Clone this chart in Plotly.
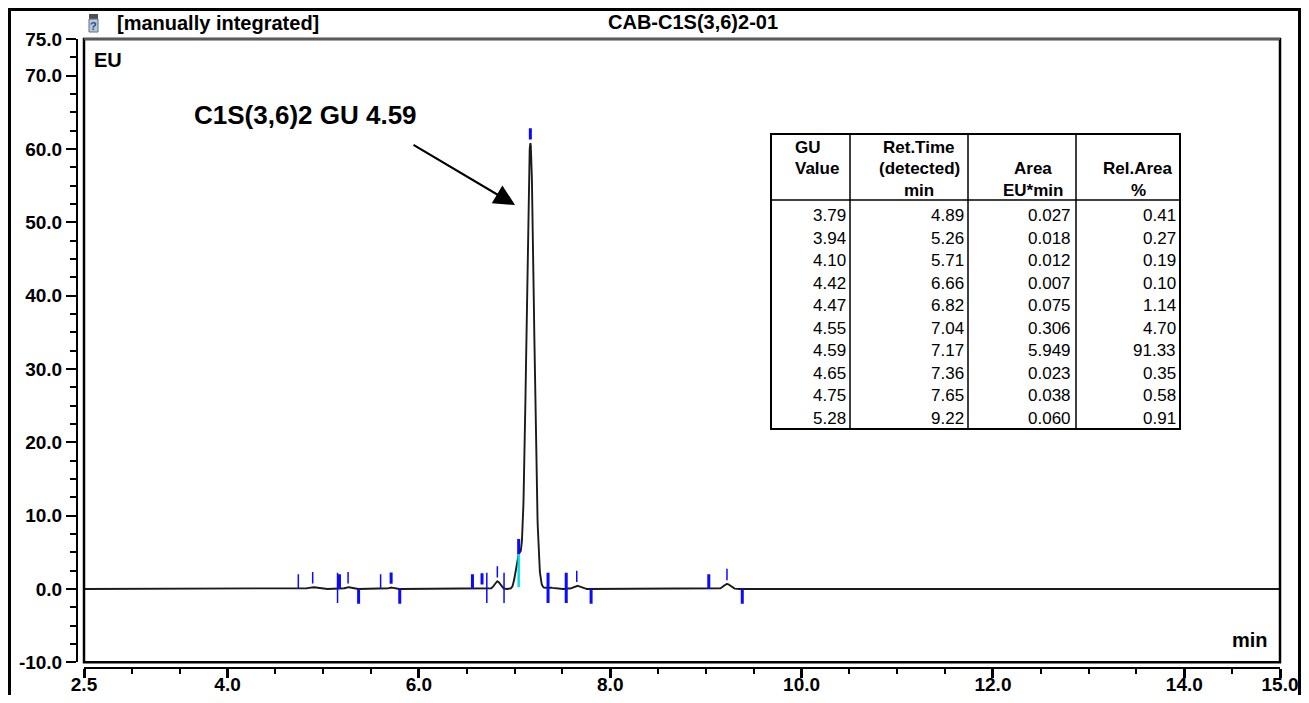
import numpy as np
import plotly.graph_objects as go

# ---------------- data ----------------
gu_values = ["3.79", "3.94", "4.10", "4.42", "4.47", "4.55", "4.59", "4.65", "4.75", "5.28"]
ret_times = [4.89, 5.26, 5.71, 6.66, 6.82, 7.04, 7.165, 7.36, 7.65, 9.22]
ret_labels = ["4.89", "5.26", "5.71", "6.66", "6.82", "7.04", "7.17", "7.36", "7.65", "9.22"]
areas = [0.027, 0.018, 0.012, 0.007, 0.075, 0.306, 5.949, 0.023, 0.038, 0.060]
area_labels = ["0.027", "0.018", "0.012", "0.007", "0.075", "0.306", "5.949", "0.023", "0.038", "0.060"]
rel_area_labels = ["0.41", "0.27", "0.19", "0.10", "1.14", "4.70", "91.33", "0.35", "0.58", "0.91"]
peak_heights = [0.25, 0.25, 0.20, 0.10, 1.05, 4.35, 60.8, 0.20, 0.45, 0.70]   # EU

# integration events (min)
start_events = [4.74, 5.17, 5.60, 6.56, 9.03]
end_events = [5.37, 5.80, 7.80, 9.38]
split_events = [5.15, 6.71, 6.89, 7.35, 7.54]
drop_event = 7.043

x_ticks = [2.5, 4.0, 6.0, 8.0, 10.0, 12.0, 14.0, 15.0]
x_ticktext = ["2.5", "4.0", "6.0", "8.0", "10.0", "12.0", "14.0", "15.0"]
y_ticks = [75, 70, 60, 50, 40, 30, 20, 10, 0, -10]
y_ticktext = ["75.0", "70.0", "60.0", "50.0", "40.0", "30.0", "20.0", "10.0", "0.0", "-10.0"]

# styles
start_thick = [False, True, False, True, True]
split_thick = [False, False, False, True, True]
apex_style = ["thin", "thin", "thick", "thick", "thin", "thick", "thick", None, "thin", "thin"]

FONT = "Arial, Liberation Sans, sans-serif"
BLUE = "#0a0aff"
W, H = 1293, 687
ML, MR, MT, MB = 69, 21, 31, 27
PW = W - ML - MR
PH = H - MT - MB
OFF = 8  # page body margin


def px(sx):
    return (sx - OFF - ML) / PW


def py(sy):
    return (H - MB - (sy - OFF)) / PH


# ---------------- chromatogram trace ----------------
t = np.linspace(2.5, 15.0, 6251)
signal = np.zeros_like(t)
for rt, a, h in zip(ret_times, areas, peak_heights):
    s = a / (h * np.sqrt(2 * np.pi))
    signal += h * np.exp(-0.5 * ((t - rt) / s) ** 2)


def curve_at(x):
    return float(np.interp(x, t, signal))


fig = go.Figure()
fig.add_trace(go.Scatter(x=t, y=signal, mode="lines",
                         line=dict(color="#1a1a1a", width=1.9), hoverinfo="skip"))

# ---------------- integration markers ----------------
seg = {"thin": ([], []), "thick": ([], [])}


def add_seg(kind, x, y0, y1):
    xs, ys = seg[kind]
    xs += [x, x, None]
    ys += [y0, y1, None]


for x, thick in zip(start_events, start_thick):
    add_seg("thick" if thick else "thin", x, 0.0, 2.0)
for x in end_events:
    add_seg("thick", x, 0.0, -2.0)
for x, thick in zip(split_events, split_thick):
    add_seg("thick" if thick else "thin", x, -1.9, 2.2)
for rt, style in zip(ret_times, apex_style):
    if style is None:
        continue
    base = curve_at(rt)
    if rt == 7.04:
        add_seg(style, rt + 0.003, base, base + 2.1)
    else:
        add_seg(style, rt, base + 0.5, base + 2.05)

fig.add_trace(go.Scatter(x=seg["thin"][0], y=seg["thin"][1], mode="lines",
                         line=dict(color=BLUE, width=1.5), hoverinfo="skip"))
fig.add_trace(go.Scatter(x=seg["thick"][0], y=seg["thick"][1], mode="lines",
                         line=dict(color=BLUE, width=3), hoverinfo="skip"))
fig.add_trace(go.Scatter(x=[drop_event, drop_event], y=[0.25, curve_at(drop_event)], mode="lines",
                         line=dict(color="#00e0e8", width=2.5), hoverinfo="skip"))

# ---------------- axes ----------------
fig.update_layout(
    width=W, height=H,
    margin=dict(l=ML, r=MR, t=MT, b=MB, pad=0, autoexpand=False),
    plot_bgcolor="white", paper_bgcolor="white", showlegend=False,
    xaxis=dict(range=[2.5, 15.0], domain=[px(84), 1], anchor="free", position=0,
               showline=True, linecolor="black", linewidth=2,
               ticks="outside", ticklen=9, tickwidth=2.5, tickcolor="black",
               tickmode="array", tickvals=x_ticks, ticktext=x_ticktext,
               tickfont=dict(family=FONT, size=19, color="black", weight="bold"),
               showgrid=False, zeroline=False,
               minor=dict(ticks="outside", ticklen=5, tickwidth=1.5, tickcolor="black",
                          tickmode="linear", tick0=2.5, dtick=0.5, showgrid=False)),
    yaxis=dict(range=[-10, 75], domain=[py(662.3), 1], anchor="free", position=0,
               showline=True, linecolor="black", linewidth=2,
               ticks="outside", ticklen=10, tickwidth=2, tickcolor="black",
               tickmode="array", tickvals=y_ticks, ticktext=y_ticktext,
               tickfont=dict(family=FONT, size=19, color="black", weight="bold"),
               showgrid=False, zeroline=False,
               minor=dict(ticks="outside", ticklen=6, tickwidth=1.5, tickcolor="black",
                          tickmode="linear", tick0=0, dtick=2.5, showgrid=False)),
)
try:
    fig.update_xaxes(ticklabelstandoff=-10)
except Exception:
    pass

shapes = []
# plot box
shapes.append(dict(type="rect", xref="paper", yref="paper", x0=px(84), x1=1, y0=py(662.3), y1=1,
                   line=dict(color="black", width=2.5)))
shapes.append(dict(type="line", xref="paper", yref="paper", x0=px(84), x1=1, y0=1, y1=1,
                   line=dict(color="#5a5a5a", width=2.5)))
# outer frame (left, top, right)
shapes.append(dict(type="rect", xref="paper", yref="paper", x0=px(9.5), x1=px(1299.5),
                   y0=py(760), y1=py(9.5), line=dict(color="black", width=3)))
# small header icon
shapes.append(dict(type="rect", xref="paper", yref="paper", x0=px(89), x1=px(98), y0=py(19), y1=py(14),
                   fillcolor="#505050", line=dict(width=0)))
shapes.append(dict(type="rect", xref="paper", yref="paper", x0=px(89), x1=px(98), y0=py(32), y1=py(19),
                   fillcolor="#b8c8dc", line=dict(color="#607080", width=1)))

# table frame
TL, TR, TT, TB = 771, 1180, 134, 429
cols = [850, 968, 1076]
shapes.append(dict(type="rect", xref="paper", yref="paper", x0=px(TL), x1=px(TR), y0=py(TB), y1=py(TT),
                   line=dict(color="black", width=2), fillcolor="white", layer="above"))
shapes.append(dict(type="line", xref="paper", yref="paper", x0=px(TL), x1=px(TR), y0=py(200), y1=py(200),
                   line=dict(color="black", width=1.5)))
for c in cols:
    shapes.append(dict(type="line", xref="paper", yref="paper", x0=px(c), x1=px(c), y0=py(TB), y1=py(TT),
                       line=dict(color="black", width=1.5)))
fig.update_layout(shapes=shapes)

anns = []


def txt(text, sx, sy, size, anchor="left", bold=True, color="black"):
    anns.append(dict(text=text, xref="paper", yref="paper", x=px(sx), y=py(sy), showarrow=False,
                     xanchor=anchor, yanchor="middle", borderpad=0,
                     font=dict(family=FONT, size=size, color=color, weight="bold" if bold else "normal")))


txt("?", 93.5, 26, 11, anchor="center", color="#2a4a8a")
txt("[manually integrated]", 116, 23, 20)
txt("CAB-C1S(3,6)2-01", 693, 22, 20, anchor="center")
txt("EU", 93, 60, 20)
txt("min", 1269, 640, 20, anchor="right")
txt("C1S(3,6)2 GU 4.59", 193, 115, 26)

# table header
hy = [147, 168.5, 191]
txt("GU", 794, hy[0], 17)
txt("Value", 794, hy[1], 17)
txt("Ret.Time", 919, hy[0], 17, anchor="center")
txt("(detected)", 919, hy[1], 17, anchor="center")
txt("min", 919, hy[2], 17, anchor="center")
txt("Area", 1033, hy[1], 17, anchor="center")
txt("EU*min", 1033, hy[2], 17, anchor="center")
txt("Rel.Area", 1138, hy[1], 17, anchor="center")
txt("%", 1138, hy[2], 17, anchor="center")

row0, row_step = 215.7, 22.5
rights = [847, 965, 1072, 1177]
for i in range(len(gu_values)):
    ry = row0 + i * row_step
    for col, vals in enumerate([gu_values, ret_labels, area_labels, rel_area_labels]):
        txt(vals[i], rights[col], ry, 17, anchor="right", bold=False)

# arrow
anns.append(dict(x=7.005, y=52.36, xref="x", yref="y", ax=5.928, ay=60.68, axref="x", ayref="y",
                 text="", showarrow=True, arrowhead=2, arrowsize=1.9, arrowwidth=2.2,
                 arrowcolor="black", standoff=0))
fig.update_layout(annotations=anns)

fig.write_html("out.html")
